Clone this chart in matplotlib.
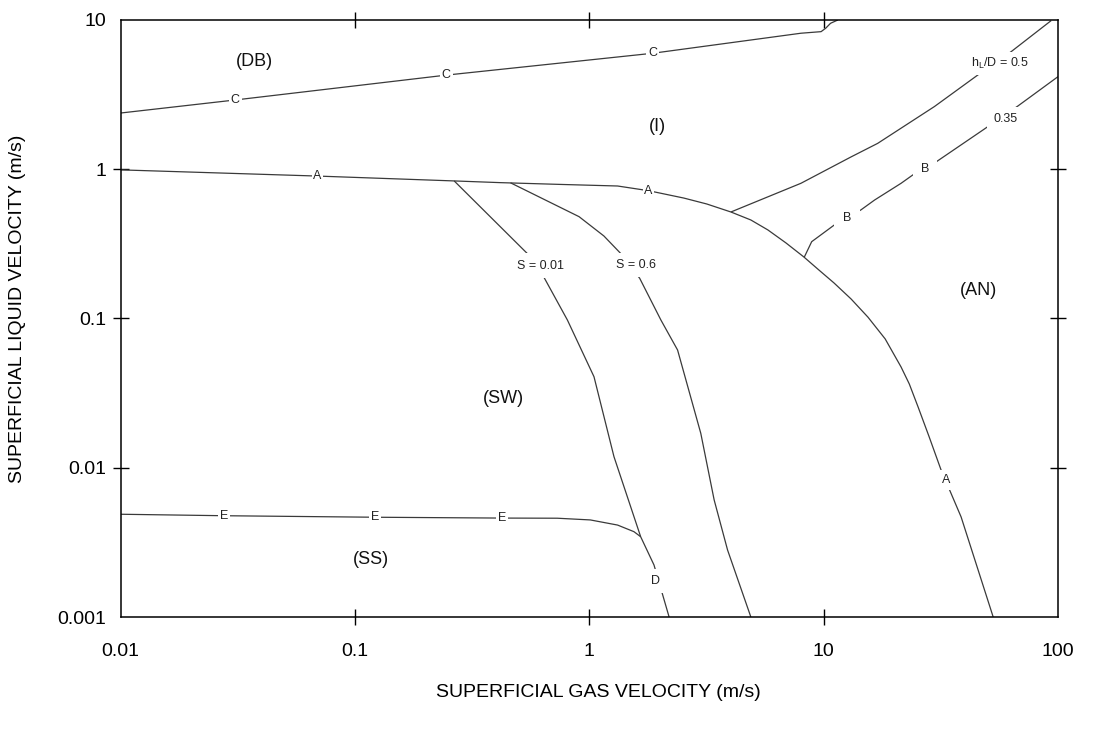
import matplotlib
matplotlib.use('Agg')
import matplotlib.pyplot as plt

plt.rcParams['font.family'] = ['Liberation Sans', 'DejaVu Sans']

# flow regime boundaries (gas velocity, liquid velocity in m/s)
curve_a_x = [0.01, 0.069, 0.269, 0.418, 0.754, 1.32, 1.79, 2.53, 3.17, 4.02, 4.89, 5.78, 6.9,
             8.24, 9.55, 11.07, 13.1, 15.46, 18.3, 21.4, 23.2, 25.3, 28.2, 31.7, 38.6, 52.9]
curve_a_y = [0.99, 0.90, 0.834, 0.813, 0.791, 0.772, 0.718, 0.641, 0.585, 0.517, 0.457, 0.392, 0.321,
             0.258, 0.211, 0.173, 0.135, 0.102, 0.073, 0.0473, 0.0364, 0.0255, 0.0161, 0.00966,
             0.00468, 0.001]

curve_c_x = [0.01, 0.0308, 0.245, 1.86, 8.0, 9.75, 10.2, 10.7, 11.5]
curve_c_y = [2.38, 2.91, 4.27, 5.98, 8.15, 8.35, 8.8, 9.5, 10.0]

curve_e_x = [0.01, 0.0276, 0.122, 0.425, 0.73, 1.01, 1.32, 1.55, 1.656]
curve_e_y = [0.00488, 0.00477, 0.00466, 0.00460, 0.00459, 0.00447, 0.00413, 0.00373, 0.00345]

s001_x = [0.265, 0.548, 0.640, 0.806, 1.047, 1.274, 1.656, 1.888, 2.19]
s001_y = [0.835, 0.269, 0.189, 0.0977, 0.0407, 0.01186, 0.00345, 0.00223, 0.001]

s06_x = [0.461, 0.904, 1.154, 1.36, 1.64, 2.02, 2.38, 2.99, 3.41, 3.89, 4.89]
s06_y = [0.811, 0.481, 0.357, 0.273, 0.186, 0.0977, 0.0615, 0.0170, 0.00608, 0.00281, 0.001]

hl05_x = [4.02, 8.0, 13.1, 17.0, 29.7, 45.5, 63.1, 93.5]
hl05_y = [0.517, 0.805, 1.21, 1.49, 2.63, 4.28, 6.13, 9.9]

curve_b_x = [8.26, 8.89, 11.1, 14.4, 16.5, 21.4, 24.0, 30.2, 47.8, 67.4, 100]
curve_b_y = [0.257, 0.327, 0.423, 0.533, 0.622, 0.805, 0.915, 1.12, 1.83, 2.65, 4.17]

# labels sitting on the curves
line_labels = ['C', 'C', 'C', 'A', 'A', 'A', 'E', 'E', 'E', 'D',
               'S = 0.01', 'S = 0.6', 'B', 'B', '0.35', r'h$_\mathregular{L}$/D = 0.5']
line_label_x = [0.0308, 0.245, 1.86, 0.069, 1.79, 33.3, 0.0276, 0.122, 0.425, 1.92,
                0.619, 1.58, 12.6, 27.1, 59.6, 56.6]
line_label_y = [2.91, 4.27, 5.98, 0.90, 0.718, 0.00828, 0.00477, 0.00466, 0.00460, 0.00174,
                0.226, 0.228, 0.473, 1.01, 2.17, 5.13]
line_label_pad = [0.15, 0.15, 0.15, 0.1, 0.1, 0.3, 0.15, 0.15, 0.15, 0.45,
                  0.5, 0.5, 0.7, 0.6, 0.5, 0.3]

# regime names
regions = ['(DB)', '(I)', '(AN)', '(SW)', '(SS)']
region_x = [0.0372, 1.95, 46, 0.431, 0.117]
region_y = [5.26, 1.93, 0.154, 0.0292, 0.00241]

x_ticks = [0.01, 0.1, 1, 10, 100]
x_tick_labels = ['0.01', '0.1', '1', '10', '100']
y_ticks = [0.001, 0.01, 0.1, 1, 10]
y_tick_labels = ['0.001', '0.01', '0.1', '1', '10']

fig = plt.figure(figsize=(10.95, 7.34), dpi=100)
ax = fig.add_axes([0.1102, 0.1594, 0.856, 0.8134])
ax.set_xscale('log')
ax.set_yscale('log')

lc = '#3a3a3a'
lw = 0.9
for xs, ys in [(curve_a_x, curve_a_y), (curve_c_x, curve_c_y), (curve_e_x, curve_e_y),
               (s001_x, s001_y), (s06_x, s06_y), (hl05_x, hl05_y), (curve_b_x, curve_b_y)]:
    ax.plot(xs, ys, color=lc, lw=lw, solid_capstyle='butt')

for txt, x, y, p in zip(line_labels, line_label_x, line_label_y, line_label_pad):
    ax.text(x, y, txt, fontsize=9, ha='center', va='center', color='#222222',
            bbox=dict(boxstyle='square,pad=%.2f' % p, fc='white', ec='none'))

for txt, x, y in zip(regions, region_x, region_y):
    ax.text(x, y, txt, fontsize=13, ha='center', va='center', color='#111111')

ax.set_xlim(0.01, 100)
ax.set_ylim(0.001, 10)
ax.set_xticks(x_ticks)
ax.set_xticklabels(x_tick_labels)
ax.set_yticks(y_ticks)
ax.set_yticklabels(y_tick_labels)
ax.minorticks_off()
ax.tick_params(axis='both', direction='inout', length=11.5, width=1.0,
               top=True, right=True, labelsize=14)
ax.tick_params(axis='x', pad=13)
ax.tick_params(axis='y', pad=4.8)

# no tick marks at the corners
for t in [ax.xaxis.get_major_ticks()[0], ax.xaxis.get_major_ticks()[-1],
          ax.yaxis.get_major_ticks()[0], ax.yaxis.get_major_ticks()[-1]]:
    t.tick1line.set_visible(False)
    t.tick2line.set_visible(False)

for s in ax.spines.values():
    s.set_linewidth(1.1)

ax.set_xlabel('SUPERFICIAL GAS VELOCITY (m/s)', fontsize=14)
ax.set_ylabel('SUPERFICIAL LIQUID VELOCITY (m/s)', fontsize=14)
ax.xaxis.set_label_coords(0.51, -0.112)
ax.yaxis.set_label_coords(-0.101, 0.516)

fig.savefig('out.png', dpi=100)
